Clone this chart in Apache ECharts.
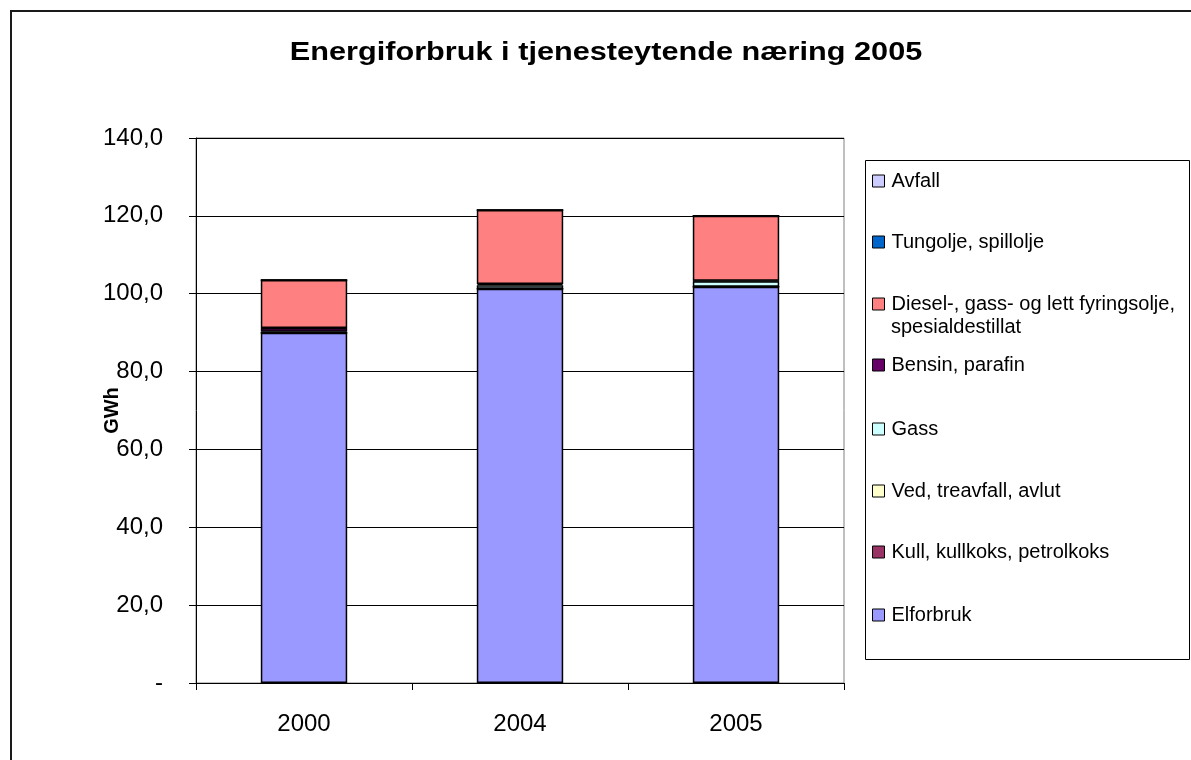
<!DOCTYPE html>
<html>
<head>
<meta charset="utf-8">
<script src="https://cdn.jsdelivr.net/npm/echarts@6/dist/echarts.min.js"></script>
<style>
html,body{margin:0;padding:0;background:#fff;}
#chart{width:1191px;height:760px;}
</style>
</head>
<body>
<div id="chart"></div>
<script>
// ---- data ----
var categories = ['2000', '2004', '2005'];
var elforbruk = [90.0, 101.3, 101.8];
var kull = [0, 0, 0];
var ved = [0, 0, 0];
var gass = [0.2, 0.9, 1.4];
var bensin = [1.0, 0.3, 0.1];
var diesel = [12.3, 19.0, 16.7];
var tungolje = [0, 0, 0];
var avfall = [0, 0, 0];
var yTicks = [0, 20, 40, 60, 80, 100, 120, 140];

var FONT = '"Liberation Sans", Arial, sans-serif';

var seriesDefs = [
  {name: 'Elforbruk', data: elforbruk, color: '#9999FF'},
  {name: 'Kull, kullkoks, petrolkoks', data: kull, color: '#993366'},
  {name: 'Ved, treavfall, avlut', data: ved, color: '#FFFFCC'},
  {name: 'Gass', data: gass, color: '#CCFFFF'},
  {name: 'Bensin, parafin', data: bensin, color: '#660066'},
  {name: 'Diesel-, gass- og lett fyringsolje, spesialdestillat', data: diesel, color: '#FF8080'},
  {name: 'Tungolje, spillolje', data: tungolje, color: '#0066CC'},
  {name: 'Avfall', data: avfall, color: '#CCCCFF'}
];

var legendCenters = {
  'Avfall': 180,
  'Tungolje, spillolje': 241,
  'Diesel-, gass- og lett fyringsolje, spesialdestillat': 303,
  'Bensin, parafin': 364,
  'Gass': 428,
  'Ved, treavfall, avlut': 490,
  'Kull, kullkoks, petrolkoks': 551,
  'Elforbruk': 614
};

var series = seriesDefs.map(function (s) {
  return {
    name: s.name,
    type: 'bar',
    stack: 'total',
    barWidth: '40%',
    data: s.data,
    itemStyle: {color: s.color, borderColor: '#000', borderWidth: 1.5},
    emphasis: {disabled: true}
  };
});

var legends = seriesDefs.map(function (s) {
  return {
    data: [s.name],
    left: 867,
    top: legendCenters[s.name] - 14,
    orient: 'vertical',
    itemWidth: 12,
    itemHeight: 12,
    itemGap: 0,
    icon: 'rect',
    selectedMode: false,
    itemStyle: {borderColor: '#000', borderWidth: 1},
    formatter: function (n) {
      return n.indexOf('Diesel') === 0 ? 'Diesel-, gass- og lett fyringsolje,' : n;
    },
    textStyle: {fontFamily: FONT, fontSize: 20, color: '#000', padding: [0, 0, 0, 2]}
  };
});

var chart = echarts.init(document.getElementById('chart'), null, {renderer: 'canvas'});
chart.setOption({
  animation: false,
  backgroundColor: '#fff',
  grid: {left: 196, right: 347, top: 138, bottom: 77, show: true, borderColor: '#808080', borderWidth: 1},
  legend: legends,
  xAxis: {
    type: 'category',
    data: categories,
    axisLine: {lineStyle: {color: '#000', width: 1}},
    axisTick: {show: true, length: 7, lineStyle: {color: '#000'}},
    axisLabel: {fontFamily: FONT, fontSize: 24, color: '#000', margin: 29}
  },
  yAxis: {
    type: 'value',
    min: yTicks[0],
    max: yTicks[yTicks.length - 1],
    interval: 20,
    name: 'GWh',
    nameLocation: 'middle',
    nameRotate: 90,
    nameGap: 74,
    nameMoveOverlap: false,
    nameTextStyle: {fontFamily: FONT, fontSize: 20, fontWeight: 'bold', color: '#000'},
    axisLine: {show: true, lineStyle: {color: '#000', width: 1}},
    axisTick: {show: true, length: 7, lineStyle: {color: '#000'}},
    axisLabel: {
      fontFamily: FONT, fontSize: 24, color: '#000', margin: 33,
      formatter: function (v) { return v === 0 ? '-' : v.toFixed(1).replace('.', ','); }
    },
    splitLine: {show: true, lineStyle: {color: '#000', width: 1}}
  },
  series: series,
  graphic: [
    {type: 'rect', silent: true, z: -10, shape: {x: 11, y: 11, width: 1200, height: 800},
     style: {fill: null, stroke: '#1a1a1a', lineWidth: 2}},
    {type: 'rect', silent: true, shape: {x: 865.5, y: 160.5, width: 324, height: 499},
     style: {fill: '#fff', stroke: '#000', lineWidth: 1}, z: -5},
    {type: 'text', silent: true, x: 891, y: 327,
     style: {text: 'spesialdestillat', font: '20px ' + FONT, fill: '#000', textVerticalAlign: 'middle', textAlign: 'left'}},
    {type: 'text', silent: true, x: 606, y: 53, scaleX: 1.18,
     style: {text: 'Energiforbruk i tjenesteytende næring 2005', font: 'bold 26px ' + FONT, fill: '#000',
             textAlign: 'center', textVerticalAlign: 'middle'}}
  ]
});
</script>
</body>
</html>
